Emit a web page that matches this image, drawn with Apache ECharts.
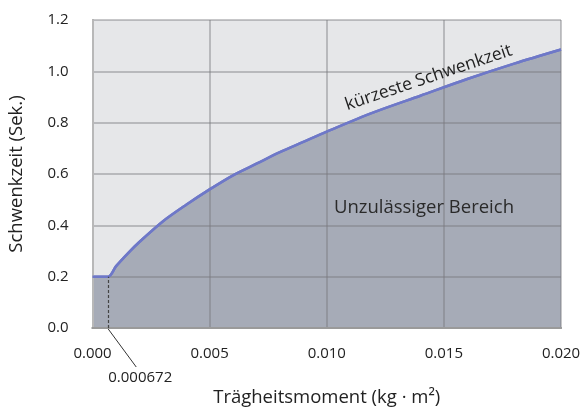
<!DOCTYPE html>
<html><head><meta charset="utf-8">
<script src="https://cdn.jsdelivr.net/npm/echarts@6/dist/echarts.min.js"></script>
<style>html,body{margin:0;padding:0;background:#fff}#c{width:582px;height:408px}</style>
</head><body><div id="c"></div>
<script>
// Data
const inertia = [0, 0.000672, 0.001, 0.0015, 0.002, 0.003, 0.004, 0.005, 0.006, 0.007, 0.008, 0.009, 0.010, 0.012, 0.014, 0.016, 0.018, 0.020];
const swingTime = [0.2, 0.2, 0.24, 0.29, 0.335, 0.415, 0.48, 0.54, 0.595, 0.64, 0.685, 0.725, 0.765, 0.84, 0.905, 0.97, 1.03, 1.085];
const markerX = 0.000672;
const markerY = 0.2;
const xTicks = [0, 0.005, 0.010, 0.015, 0.020];
const yTicks = [0, 0.2, 0.4, 0.6, 0.8, 1.0, 1.2];
const curveLabel = 'kürzeste Schwenkzeit';
const areaLabel = 'Unzulässiger Bereich';
const xName = 'Trägheitsmoment (kg · m²)';
const yName = 'Schwenkzeit (Sek.)';

const FONT = 'Open Sans';
const chart = echarts.init(document.getElementById('c'), null, {renderer: 'canvas'});
const pts = inertia.map((x, i) => [x, swingTime[i]]);

const gridLine = {show: true, lineStyle: {color: 'rgba(120,120,125,0.55)', width: 1.5}};
const axisLine = {show: true, lineStyle: {color: '#9a9a9a', width: 2}};

chart.setOption({
  animation: false,
  textStyle: {fontFamily: FONT},
  grid: {left: 92.5, right: 21, top: 20, bottom: 80, show: true, backgroundColor: '#e6e7e9', borderWidth: 0,
         containLabel: false, outerBoundsMode: 'none'},
  xAxis: [{
    type: 'value', min: 0, max: 0.02, interval: 0.005, z: 3,
    axisLine: axisLine, axisTick: {show: false}, splitLine: gridLine,
    axisLabel: {color: '#222', fontSize: 15, margin: 18, fontFamily: FONT, formatter: v => v.toFixed(3)},
    name: xName, nameLocation: 'middle', nameGap: 60,
    nameTextStyle: {color: '#222', fontSize: 18.5, fontFamily: FONT}
  }, {
    type: 'value', position: 'top', min: 0, max: 0.02, interval: 0.005, z: 3,
    axisLine: axisLine, axisTick: {show: false}, axisLabel: {show: false}, splitLine: {show: false}
  }],
  yAxis: [{
    type: 'value', min: 0, max: 1.2, interval: 0.2, z: 3,
    axisLine: axisLine, axisTick: {show: false}, splitLine: gridLine,
    axisLabel: {color: '#222', fontSize: 15, margin: 24, fontFamily: FONT, formatter: v => v.toFixed(1)},
    name: yName, nameLocation: 'middle', nameGap: 66,
    nameTextStyle: {color: '#222', fontSize: 18.5, fontFamily: FONT}
  }, {
    type: 'value', position: 'right', min: 0, max: 1.2, interval: 0.2, z: 3,
    axisLine: {show: true, lineStyle: {color: '#b8b8b8', width: 2}}, axisTick: {show: false}, axisLabel: {show: false}, splitLine: {show: false}
  }],
  series: [{
    type: 'line', data: pts, z: 2, symbol: 'none',
    smooth: 0.3,
    lineStyle: {color: '#6e78c8', width: 2.5},
    areaStyle: {color: '#a6abb7', opacity: 1},
    markLine: {
      silent: true, symbol: 'none', label: {show: false},
      lineStyle: {color: '#444', type: [3, 2], width: 1.2},
      data: [[{coord: [markerX, 0]}, {coord: [markerX, markerY]}]]
    }
  }, {
    type: 'line', data: pts, z: 4, symbol: 'none',
    smooth: 0.3,
    lineStyle: {color: '#6e78c8', width: 2.5}
  }]
});

function place() {
  const base = chart.convertToPixel({xAxisIndex: 0, yAxisIndex: 0}, [markerX, 0]);
  const lblAt = chart.convertToPixel({xAxisIndex: 0, yAxisIndex: 0}, [0.01435, 0.975]);
  const areaAt = chart.convertToPixel({xAxisIndex: 0, yAxisIndex: 0}, [0.01415, 0.47]);
  chart.setOption({
    graphic: [
      {type: 'line', z: 10, shape: {x1: base[0], y1: base[1] + 1, x2: base[0] + 28, y2: base[1] + 39},
       style: {stroke: '#333', lineWidth: 1}},
      {type: 'text', z: 10, x: base[0] + 32, y: base[1] + 50,
       style: {text: '0.000672', fill: '#222', fontSize: 15, fontFamily: FONT, align: 'center', verticalAlign: 'middle'}},
      {type: 'text', z: 10, x: lblAt[0], y: lblAt[1], rotation: 18.5 * Math.PI / 180,
       style: {text: curveLabel, fill: '#222', fontSize: 17.5, fontFamily: FONT, align: 'center', verticalAlign: 'middle'}},
      {type: 'text', z: 10, x: areaAt[0], y: areaAt[1],
       style: {text: areaLabel, fill: '#2a2a2a', fontSize: 18.5, fontFamily: FONT, align: 'center', verticalAlign: 'middle'}}
    ]
  });
}
place();
</script>
</body></html>
